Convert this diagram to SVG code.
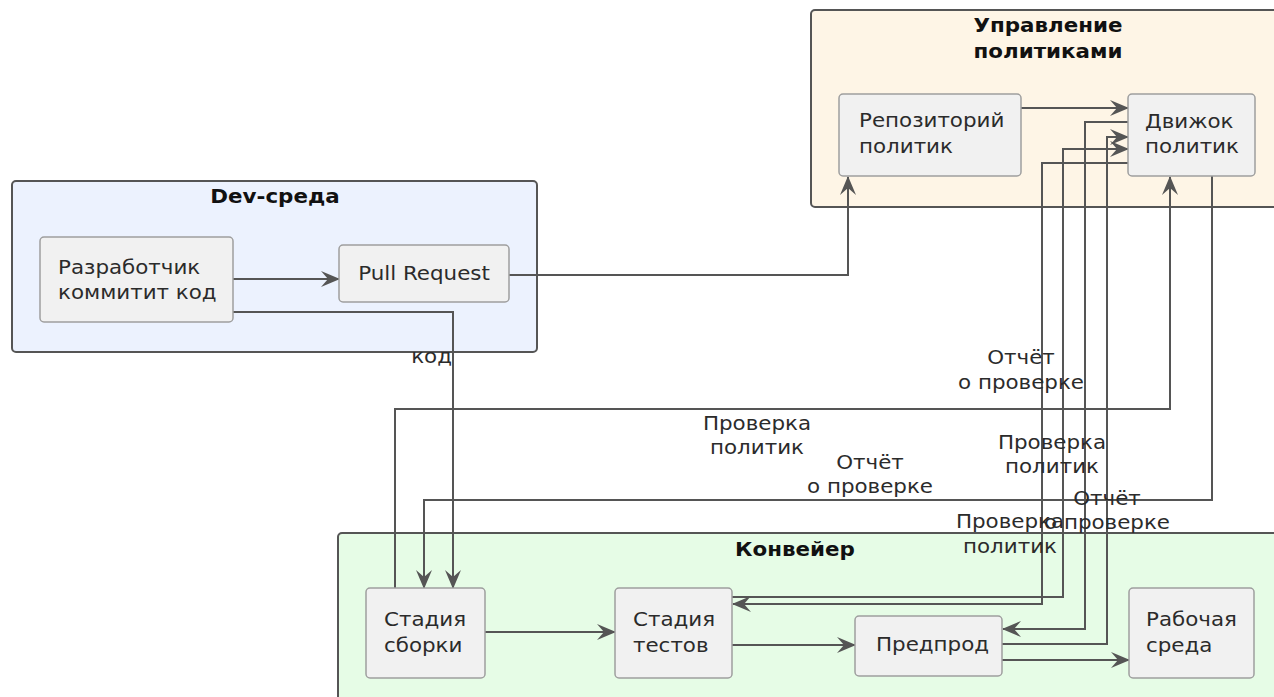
<svg xmlns="http://www.w3.org/2000/svg" width="1274" height="697" viewBox="0 0 1274 697">
<style>
.cl{stroke:#555;stroke-width:2}
.nd{fill:#F1F1F1;stroke:#9E9E9E;stroke-width:1.5}
.t{font-family:"DejaVu Sans",sans-serif;font-size:20px;fill:#2b2b2b}
.ti{font-family:"DejaVu Sans",sans-serif;font-size:20px;font-weight:bold;fill:#111}
.lb{font-family:"DejaVu Sans",sans-serif;font-size:20px;fill:#2b2b2b}
.m{text-anchor:middle}
.e{text-anchor:end}
.c{fill:none;stroke:#555;stroke-width:2}
</style>
<defs>
<marker id="ah" viewBox="0 0 19 16" refX="18" refY="8" markerWidth="19" markerHeight="16" markerUnits="userSpaceOnUse" orient="auto">
<path d="M0,0 L19,8 L0,16 L7,8 Z" fill="#555"/>
</marker>
</defs>
<rect width="1274" height="697" fill="#fff"/>

<g id="cluster-policy">
<rect class="cl" x="811" y="10" width="475" height="197" rx="4" fill="#FEF5E6"/>
<text class="ti m" transform="translate(1048 32) scale(1.07 1)">Управление</text>
<text class="ti m" transform="translate(1048 58) scale(1.07 1)">политиками</text>
</g>
<g id="cluster-dev">
<rect class="cl" x="12" y="181" width="525" height="171" rx="4" fill="#ECF2FE"/>
<text class="ti m" transform="translate(275 203) scale(1.07 1)">Dev-среда</text>
</g>
<g id="cluster-pipeline">
<rect class="cl" x="338" y="533" width="950" height="180" rx="4" fill="#E6FCE6"/>
<text class="ti m" transform="translate(795 556) scale(1.07 1)">Конвейер</text>
</g>

<g id="connectors">
<path class="c" d="M233,279 H339" marker-end="url(#ah)"/>
<path class="c" d="M509,275 H848 V177" marker-end="url(#ah)"/>
<path class="c" d="M233,312 H453 V588" marker-end="url(#ah)"/>
<path class="c" d="M1021,108 H1128" marker-end="url(#ah)"/>
<path class="c" d="M395,588 V409 H1170 V177" marker-end="url(#ah)"/>
<path class="c" d="M1212,176 V500 H424 V588" marker-end="url(#ah)"/>
<path class="c" d="M732,597 H1063 V149 H1128" marker-end="url(#ah)"/>
<path class="c" d="M1128,163 H1042 V604 H733" marker-end="url(#ah)"/>
<path class="c" d="M1128,122 H1085 V629 H1003" marker-end="url(#ah)"/>
<path class="c" d="M1002,644 H1107 V137 H1128" marker-end="url(#ah)"/>
<path class="c" d="M485,632 H615" marker-end="url(#ah)"/>
<path class="c" d="M732,645 H855" marker-end="url(#ah)"/>
<path class="c" d="M1002,660 H1129" marker-end="url(#ah)"/>
<text class="lb e" transform="translate(452 363) scale(1.07 1)">код</text>
<text class="lb m" transform="translate(757 430) scale(1.07 1)">Проверка</text>
<text class="lb m" transform="translate(757 454) scale(1.07 1)">политик</text>
<text class="lb m" transform="translate(870 469) scale(1.07 1)">Отчёт</text>
<text class="lb m" transform="translate(870 493) scale(1.07 1)">о проверке</text>
<text class="lb m" transform="translate(1021 364) scale(1.07 1)">Отчёт</text>
<text class="lb m" transform="translate(1021 389) scale(1.07 1)">о проверке</text>
<text class="lb m" transform="translate(1052 449) scale(1.07 1)">Проверка</text>
<text class="lb m" transform="translate(1052 473) scale(1.07 1)">политик</text>
<text class="lb m" transform="translate(1107 505) scale(1.07 1)">Отчёт</text>
<text class="lb m" transform="translate(1107 529) scale(1.07 1)">о проверке</text>
<text class="lb m" transform="translate(1010 528) scale(1.07 1)">Проверка</text>
<text class="lb m" transform="translate(1010 553) scale(1.07 1)">политик</text>
</g>

<g id="node-developer">
<rect class="nd" x="40" y="237" width="193" height="85" rx="4"/>
<text class="t" transform="translate(58 274) scale(1.07 1)">Разработчик</text>
<text class="t" transform="translate(58 299) scale(1.07 1)">коммитит код</text>
</g>
<g id="node-pr">
<rect class="nd" x="339" y="245" width="170" height="57" rx="4"/>
<text class="t m" transform="translate(424 280) scale(1.07 1)">Pull Request</text>
</g>
<g id="node-repo">
<rect class="nd" x="839" y="94" width="182" height="82" rx="4"/>
<text class="t" transform="translate(859 127) scale(1.07 1)">Репозиторий</text>
<text class="t" transform="translate(859 153) scale(1.07 1)">политик</text>
</g>
<g id="node-engine">
<rect class="nd" x="1128" y="94" width="127" height="82" rx="4"/>
<text class="t" transform="translate(1145 128) scale(1.07 1)">Движок</text>
<text class="t" transform="translate(1145 153) scale(1.07 1)">политик</text>
</g>
<g id="node-build">
<rect class="nd" x="366" y="588" width="119" height="90" rx="4"/>
<text class="t" transform="translate(384 626) scale(1.07 1)">Стадия</text>
<text class="t" transform="translate(384 652) scale(1.07 1)">сборки</text>
</g>
<g id="node-test">
<rect class="nd" x="615" y="588" width="117" height="90" rx="4"/>
<text class="t" transform="translate(633 626) scale(1.07 1)">Стадия</text>
<text class="t" transform="translate(633 652) scale(1.07 1)">тестов</text>
</g>
<g id="node-preprod">
<rect class="nd" x="855" y="616" width="147" height="60" rx="4"/>
<text class="t" transform="translate(876 651) scale(1.07 1)">Предпрод</text>
</g>
<g id="node-prod">
<rect class="nd" x="1129" y="588" width="125" height="90" rx="4"/>
<text class="t" transform="translate(1146 626) scale(1.07 1)">Рабочая</text>
<text class="t" transform="translate(1146 652) scale(1.07 1)">среда</text>
</g>
</svg>
